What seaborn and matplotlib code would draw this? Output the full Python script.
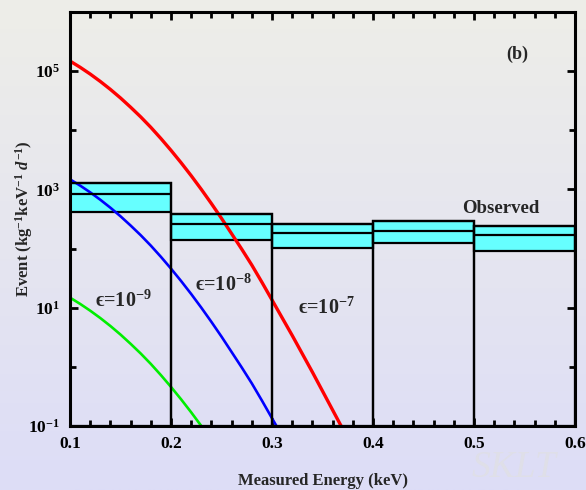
import matplotlib
matplotlib.use("Agg")
import matplotlib.pyplot as plt
import numpy as np
import seaborn as sns
from matplotlib.ticker import FixedLocator, MultipleLocator, NullFormatter

sns.set_style("ticks")
plt.rcParams["font.family"] = ["Liberation Serif", "DejaVu Serif"]
plt.rcParams["font.weight"] = "bold"
plt.rcParams["mathtext.fontset"] = "custom"
plt.rcParams["mathtext.rm"] = "Liberation Serif:bold"
plt.rcParams["mathtext.it"] = "Liberation Serif:italic:bold"
plt.rcParams["mathtext.bf"] = "Liberation Serif:bold"

# observed spectrum (events / kg / keV / day), one box per 0.1 keV bin
bin_left = [0.1, 0.2, 0.3, 0.4, 0.5]
obs_low = [408, 139, 101, 122, 92]
obs_mid = [833, 259, 181, 200, 167]
obs_high = [1262, 378, 259, 288, 243]

# expected spectra for three values of epsilon
energy_e7 = [0.10, 0.11, 0.12, 0.13, 0.14, 0.15, 0.16, 0.17, 0.18, 0.19,
             0.20, 0.21, 0.22, 0.23, 0.24, 0.25, 0.26, 0.27, 0.28, 0.29,
             0.30, 0.31, 0.32, 0.33, 0.34, 0.35, 0.36, 0.37]
rate_e7 = [1.479e5, 1.161e5, 8.91e4, 6.68e4, 4.90e4, 3.51e4, 2.45e4, 1.68e4,
           1.12e4, 7.24e3, 4.57e3, 2.82e3, 1.70e3, 1.0e3, 575, 324, 178, 97.7,
           52.5, 26.9, 13.5, 6.76, 3.39, 1.66, 0.813, 0.389, 0.186, 0.089]

energy_e8 = [0.10, 0.11, 0.12, 0.13, 0.14, 0.15, 0.16, 0.17, 0.18, 0.19,
             0.20, 0.21, 0.22, 0.23, 0.24, 0.25, 0.26, 0.27, 0.28, 0.29,
             0.30, 0.31]
rate_e8 = [1479, 1161, 891, 668, 490, 351, 245, 168, 112, 72.4,
           45.7, 28.2, 17.0, 10.0, 5.75, 3.24, 1.78, 0.977, 0.525, 0.269,
           0.135, 0.068]

energy_e9 = [0.10, 0.11, 0.12, 0.13, 0.14, 0.15, 0.16, 0.17, 0.18, 0.19,
             0.20, 0.21, 0.22, 0.23, 0.24]
rate_e9 = [14.8, 11.6, 8.9, 6.68, 4.9, 3.51, 2.45, 1.68, 1.12, 0.724,
           0.457, 0.282, 0.170, 0.100, 0.0575]

y_major = [0.1, 10, 1e3, 1e5]
y_major_labels = ["$10^{-1}$", "$10^{1}$", "$10^{3}$", "$10^{5}$"]
y_minor = [1, 100, 1e4]

fig = plt.figure(figsize=(5.86, 4.90), dpi=100)

# background gradient
bg = fig.add_axes([0, 0, 1, 1], zorder=-10)
top = np.array([0xEE, 0xEE, 0xE8]) / 255
bottom = np.array([0xDD, 0xDD, 0xF7]) / 255
t = np.linspace(0, 1, 256)[:, None, None]
grad = top * (1 - t) + bottom * t
bg.imshow(grad, aspect="auto", extent=[0, 1, 0, 1])
bg.axis("off")

fig.text(0.805, 0.026, "SKLT", fontsize=27, style="italic", fontweight="normal",
         color="#dfdfe8", ha="left", va="baseline", zorder=-5)

ax = fig.add_axes([0.1195, 0.1306, 0.8618, 0.845])
ax.set_facecolor("none")
ax.set_yscale("log")
ax.set_xlim(0.1, 0.6)
ax.set_ylim(0.1, 1e6)

# observed boxes
floor = 0.1
ax.bar(bin_left, [h - floor for h in obs_high], bottom=floor, width=0.1,
       align="edge", fill=False, edgecolor="black", linewidth=1.6, zorder=3)
ax.bar(bin_left, [h - l for h, l in zip(obs_high, obs_low)], bottom=obs_low,
       width=0.1, align="edge", color="#66ffff", edgecolor="black",
       linewidth=1.6, zorder=1)
ax.hlines(obs_mid, bin_left, [b + 0.1 for b in bin_left], color="black",
          linewidth=1.6, zorder=3)

sns.lineplot(x=energy_e7, y=rate_e7, color="red", linewidth=2.4, ax=ax, zorder=2)
sns.lineplot(x=energy_e8, y=rate_e8, color="blue", linewidth=1.9, ax=ax, zorder=2)
sns.lineplot(x=energy_e9, y=rate_e9, color="#00ee00", linewidth=1.9, ax=ax, zorder=2)

ax.text(0.1248, 13, "ϵ=10$^{-9}$", fontsize=14.5, va="center", ha="left")
ax.text(0.2238, 24, "ϵ=10$^{-8}$", fontsize=14.5, va="center", ha="left")
ax.text(0.3254, 9.9, "ϵ=10$^{-7}$", fontsize=14.5, va="center", ha="left")
ax.text(0.527, 483, "Observed", fontsize=13.5, va="center", ha="center")
ax.text(0.543, 1.9e5, "(b)", fontsize=13, va="center", ha="center")

ax.xaxis.set_major_locator(MultipleLocator(0.1))
ax.xaxis.set_minor_locator(MultipleLocator(0.02))
ax.yaxis.set_major_locator(FixedLocator(y_major))
ax.yaxis.set_minor_locator(FixedLocator(y_minor))
ax.yaxis.set_minor_formatter(NullFormatter())
ax.set_yticklabels(y_major_labels)
ax.set_xticks([0.1, 0.2, 0.3, 0.4, 0.5, 0.6])
ax.set_xticklabels(["0.1", "0.2", "0.3", "0.4", "0.5", "0.6"])

ax.tick_params(which="both", direction="in", top=True, right=True,
               width=2, labelsize=12.5, colors="black")
ax.tick_params(which="major", length=6, pad=7)
ax.tick_params(which="minor", length=4)
for s in ax.spines.values():
    s.set_linewidth(2.2)
    s.set_color("black")

ax.set_xlabel("Measured Energy (keV)", fontsize=12, fontweight="bold")
ax.xaxis.set_label_coords(0.5, -0.113)
ax.xaxis.label.set_va("top")
ax.set_ylabel("Event (kg$^{-1}$keV$^{-1}$ $d^{-1}$)", fontsize=12, fontweight="bold")
ax.yaxis.set_label_coords(-0.07, 0.5)

fig.savefig("out.png", dpi=100)
